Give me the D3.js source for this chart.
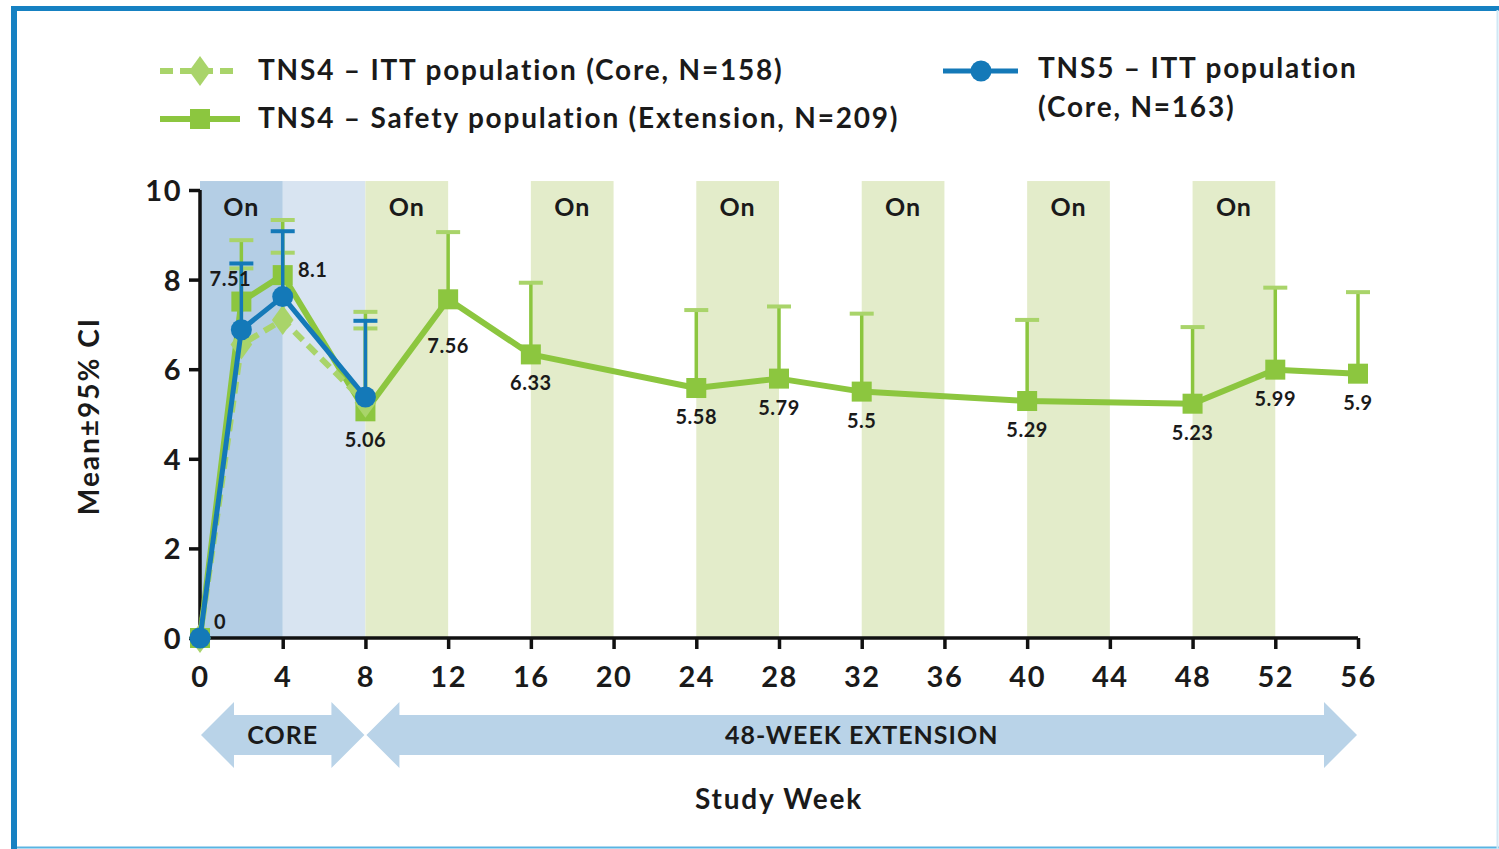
<!DOCTYPE html>
<html>
<head>
<meta charset="utf-8">
<script src="https://cdn.jsdelivr.net/npm/d3@7"></script>
<style>
  html, body { margin: 0; padding: 0; background: #fff; }
  svg { display: block; }
  text { font-family: Lato, "Open Sans", sans-serif; font-weight: 700; fill: #1a1a1a; }
</style>
</head>
<body>
<svg id="chart" width="1499" height="849"></svg>
<script>
// ---------------- data ----------------
const safetyWeeks = [0, 2, 4, 8, 12, 16, 24, 28, 32, 40, 48, 52, 56];
const safetyMeans = [0, 7.51, 8.1, 5.06, 7.56, 6.33, 5.58, 5.79, 5.5, 5.29, 5.23, 5.99, 5.9];
const safetyUpper = [null, 8.88, 9.33, 7.28, 9.06, 7.93, 7.32, 7.4, 7.24, 7.1, 6.94, 7.82, 7.72];
const safetyLabels = ["0", "7.51", "8.1", "5.06", "7.56", "6.33", "5.58", "5.79", "5.5", "5.29", "5.23", "5.99", "5.9"];

const ittWeeks = [0, 2, 4, 8];
const ittMeans = [0, 6.55, 7.1, 5.25];
const ittUpper = [null, 8.25, 8.6, 6.91];

const tns5Weeks = [0, 2, 4, 8];
const tns5Means = [0, 6.88, 7.62, 5.38];
const tns5Upper = [null, 8.36, 9.08, 7.08];

const onPeriods = [[0, 4], [8, 12], [16, 20], [24, 28], [32, 36], [40, 44], [48, 52]];
const xTicks = [0, 4, 8, 12, 16, 20, 24, 28, 32, 36, 40, 44, 48, 52, 56];
const yTicks = [0, 2, 4, 6, 8, 10];
const phases = [{ name: "CORE", from: 0, to: 8 }, { name: "48-WEEK EXTENSION", from: 8, to: 56 }];

const legendItems = [
  { lines: ["TNS4 \u2013 ITT population (Core, N=158)"], series: "itt" },
  { lines: ["TNS4 \u2013 Safety population (Extension, N=209)"], series: "safety" },
  { lines: ["TNS5 \u2013 ITT population", "(Core, N=163)"], series: "tns5" }
];

// ---------------- styles ----------------
const GREEN = "#8cc63f";
const GREEN_LIGHT = "#a9d46a";
const BLUE = "#1479b8";
const BAND_GREEN = "#e3ecca";
const BAND_BLUE_DARK = "#b4cee5";
const BAND_BLUE_LIGHT = "#d8e4f1";
const ARROW = "#b9d3e8";

const svg = d3.select("#chart");

// frame
svg.append("line").attr("x1", 14).attr("x2", 14).attr("y1", 6).attr("y2", 849)
  .attr("stroke", "#1681c2").attr("stroke-width", 6);
svg.append("line").attr("x1", 11).attr("x2", 1499).attr("y1", 8.5).attr("y2", 8.5)
  .attr("stroke", "#1681c2").attr("stroke-width", 5);
svg.append("line").attr("x1", 17).attr("x2", 1499).attr("y1", 847.5).attr("y2", 847.5)
  .attr("stroke", "#5ab4e2").attr("stroke-width", 2);
svg.append("line").attr("x1", 1497.5).attr("x2", 1497.5).attr("y1", 10).attr("y2", 849)
  .attr("stroke", "#cfe8f5").attr("stroke-width", 2);

const x = d3.scaleLinear().domain([0, 56]).range([200, 1358]);
const y = d3.scaleLinear().domain([0, 10]).range([638, 190]);

// background bands
const bandTop = y(10.2);
svg.append("rect").attr("x", x(4)).attr("y", bandTop).attr("width", x(8) - x(4))
  .attr("height", y(0) - bandTop).attr("fill", BAND_BLUE_LIGHT);
svg.selectAll("rect.on").data(onPeriods).join("rect").attr("class", "on")
  .attr("x", d => x(d[0])).attr("y", bandTop)
  .attr("width", d => x(d[1]) - x(d[0])).attr("height", y(0) - bandTop)
  .attr("fill", (d, i) => i === 0 ? BAND_BLUE_DARK : BAND_GREEN);
svg.selectAll("text.on").data(onPeriods).join("text").attr("class", "on")
  .attr("x", d => x((d[0] + d[1]) / 2)).attr("y", 216)
  .attr("text-anchor", "middle").attr("font-size", 25).attr("letter-spacing", 1).text("On");

// axes
const yAxis = d3.axisLeft(y).tickValues(yTicks).tickSize(11).tickPadding(7).tickFormat(d3.format("d"));
const gy = svg.append("g").attr("transform", `translate(${x(0)},0)`).call(yAxis);
const xAxis = d3.axisBottom(x).tickValues(xTicks).tickSize(11).tickPadding(17).tickFormat(d3.format("d"));
const gx = svg.append("g").attr("transform", `translate(0,${y(0)})`).call(xAxis);
[gx, gy].forEach(g => {
  g.select(".domain").attr("stroke", "#111").attr("stroke-width", 3.5);
  g.selectAll(".tick line").attr("stroke", "#111").attr("stroke-width", 3.5);
  g.selectAll(".tick text").attr("font-size", 29).attr("fill", "#1a1a1a").attr("letter-spacing", 1.5)
    .style("font-family", "Lato, sans-serif").style("font-weight", 700);
});
gy.selectAll(".tick text").attr("dy", "0.36em");
gy.select(".domain").attr("d", `M0,${y(0)}V${y(10)}`);
gx.select(".domain").attr("d", `M${x(0)},0H${x(56)}`);

// axis titles
svg.append("text").attr("transform", `translate(99,${(y(0) + y(10)) / 2 + 2}) rotate(-90)`)
  .attr("text-anchor", "middle").attr("font-size", 28).attr("letter-spacing", 2).text("Mean\u00b195% CI");
svg.append("text").attr("x", 779).attr("y", 809).attr("text-anchor", "middle")
  .attr("font-size", 28).attr("letter-spacing", 1.8).text("Study Week");

// phase arrows
const ay = 735, bodyH = 20, headH = 33, headL = 33;
phases.forEach(p => {
  const x0 = x(p.from) + 1, x1 = x(p.to) - 1;
  const pts = [
    [x0, ay], [x0 + headL, ay - headH], [x0 + headL, ay - bodyH], [x1 - headL, ay - bodyH],
    [x1 - headL, ay - headH], [x1, ay], [x1 - headL, ay + headH], [x1 - headL, ay + bodyH],
    [x0 + headL, ay + bodyH], [x0 + headL, ay + headH]
  ];
  svg.append("polygon").attr("points", pts.map(q => q.join(",")).join(" ")).attr("fill", ARROW);
  svg.append("text").attr("x", (x0 + x1) / 2).attr("y", ay + 9).attr("text-anchor", "middle")
    .attr("font-size", 25).attr("letter-spacing", 1).text(p.name);
});

// helpers
function errorBars(weeks, means, upper, stroke, capColor) {
  const g = svg.append("g");
  weeks.forEach((w, i) => {
    if (upper[i] == null) return;
    g.append("line").attr("x1", x(w)).attr("x2", x(w)).attr("y1", y(means[i])).attr("y2", y(upper[i]))
      .attr("stroke", stroke).attr("stroke-width", 3.5);
    g.append("line").attr("x1", x(w) - 12).attr("x2", x(w) + 12).attr("y1", y(upper[i])).attr("y2", y(upper[i]))
      .attr("stroke", capColor).attr("stroke-width", 4);
  });
}
const line = d3.line().x(d => x(d[0])).y(d => y(d[1]));

// safety population (solid green, squares)
errorBars(safetyWeeks, safetyMeans, safetyUpper, GREEN, GREEN_LIGHT);
const safetyPts = safetyWeeks.map((w, i) => [w, safetyMeans[i]]);
svg.append("path").attr("d", line(safetyPts)).attr("fill", "none").attr("stroke", GREEN)
  .attr("stroke-width", 6).attr("stroke-linejoin", "round");
svg.selectAll("rect.sq").data(safetyPts).join("rect").attr("class", "sq")
  .attr("x", d => x(d[0]) - 10).attr("y", d => y(d[1]) - 10).attr("width", 20).attr("height", 20)
  .attr("fill", GREEN);

// ITT core (dashed green, diamonds)
errorBars(ittWeeks, ittMeans, ittUpper, GREEN, GREEN_LIGHT);
const ittPts = ittWeeks.map((w, i) => [w, ittMeans[i]]);
svg.append("path").attr("d", line(ittPts)).attr("fill", "none").attr("stroke", GREEN_LIGHT)
  .attr("stroke-width", 6).attr("stroke-dasharray", "12,7");
svg.selectAll("path.dia").data(ittPts).join("path").attr("class", "dia")
  .attr("d", d3.symbol(d3.symbolDiamond, 260))
  .attr("transform", d => `translate(${x(d[0])},${y(d[1])}) scale(1.25,1)`)
  .attr("fill", GREEN_LIGHT);

// TNS5 (blue, circles)
errorBars(tns5Weeks, tns5Means, tns5Upper, BLUE, BLUE);
const tns5Pts = tns5Weeks.map((w, i) => [w, tns5Means[i]]);
svg.append("path").attr("d", line(tns5Pts)).attr("fill", "none").attr("stroke", BLUE)
  .attr("stroke-width", 5).attr("stroke-linejoin", "round");
svg.selectAll("circle.c").data(tns5Pts).join("circle").attr("class", "c")
  .attr("cx", d => x(d[0])).attr("cy", d => y(d[1])).attr("r", 10.5).attr("fill", BLUE);

// value labels (safety population)
svg.selectAll("text.val").data(safetyWeeks).join("text").attr("class", "val")
  .attr("font-size", 20).attr("text-anchor", "middle").attr("letter-spacing", 0.5)
  .attr("x", (w, i) => {
    if (w === 0) return x(w) + 20;
    if (w === 2) return x(w) - 11;
    if (w === 4) return x(w) + 30;
    return x(w);
  })
  .attr("y", (w, i) => {
    const py = y(safetyMeans[i]);
    if (w === 0) return py - 9;
    if (w === 2) return py - 16;
    if (w === 4) return py + 2;
    if (w === 12) return py + 54;
    return py + 36;
  })
  .text((w, i) => safetyLabels[i]);

// legend
const legendPos = [
  { sx: 160, sy: 71, tx: 258, ty: 80 },
  { sx: 160, sy: 119, tx: 258, ty: 128 },
  { sx: 943, sy: 71, tx: 1038, ty: 78 }
];
legendItems.forEach((item, i) => {
  const p = legendPos[i];
  const g = svg.append("g");
  if (item.series === "itt") {
    g.append("line").attr("x1", p.sx).attr("x2", p.sx + 80).attr("y1", p.sy).attr("y2", p.sy)
      .attr("stroke", GREEN_LIGHT).attr("stroke-width", 6).attr("stroke-dasharray", "13,7");
    g.append("path").attr("d", d3.symbol(d3.symbolDiamond, 260))
      .attr("transform", `translate(${p.sx + 40},${p.sy}) scale(1.25,1)`).attr("fill", GREEN_LIGHT);
  } else if (item.series === "safety") {
    g.append("line").attr("x1", p.sx).attr("x2", p.sx + 80).attr("y1", p.sy).attr("y2", p.sy)
      .attr("stroke", GREEN).attr("stroke-width", 6);
    g.append("rect").attr("x", p.sx + 30).attr("y", p.sy - 10).attr("width", 20).attr("height", 20).attr("fill", GREEN);
  } else {
    g.append("line").attr("x1", p.sx).attr("x2", p.sx + 75).attr("y1", p.sy).attr("y2", p.sy)
      .attr("stroke", BLUE).attr("stroke-width", 5);
    g.append("circle").attr("cx", p.sx + 38).attr("cy", p.sy).attr("r", 10.5).attr("fill", BLUE);
  }
  item.lines.forEach((t, j) => {
    g.append("text").attr("x", p.tx).attr("y", p.ty + j * 39).attr("font-size", 28)
      .attr("letter-spacing", 1.8).text(t);
  });
});
</script>
</body>
</html>
